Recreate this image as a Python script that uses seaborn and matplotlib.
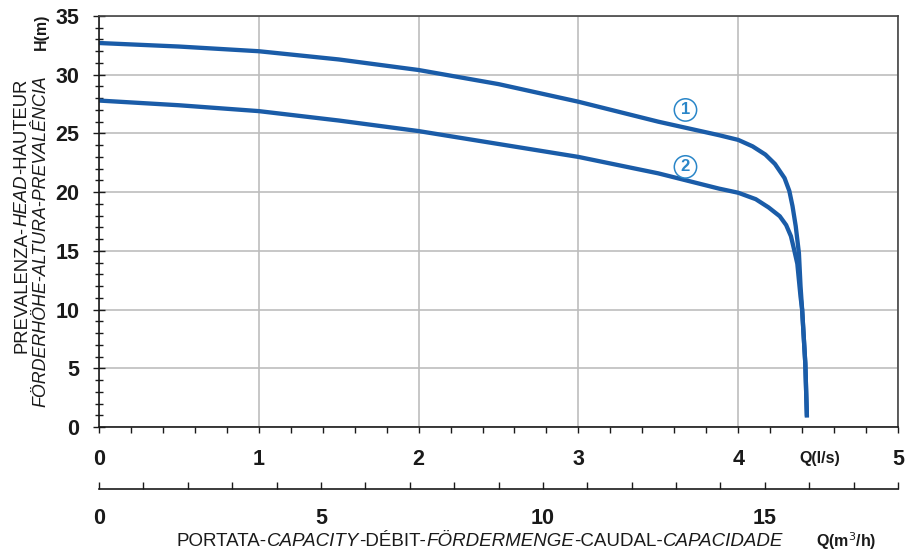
import matplotlib
matplotlib.use("Agg")
import matplotlib.pyplot as plt
import seaborn as sns
import pandas as pd
import numpy as np

# ---- data ----
q_curve1 = [0, 0.5, 1, 1.5, 2, 2.5, 3, 3.5, 3.88, 4.0, 4.09, 4.17, 4.23, 4.29, 4.32, 4.34,
            4.36, 4.38, 4.39, 4.40, 4.42, 4.43]
h_curve1 = [32.7, 32.4, 32.0, 31.3, 30.4, 29.2, 27.7, 26.0, 24.85, 24.45, 23.9, 23.2, 22.4,
            21.2, 20.1, 18.8, 17.1, 14.8, 12.0, 10.0, 5.4, 0.9]
q_curve2 = [0, 0.5, 1, 1.5, 2, 2.5, 3, 3.5, 3.88, 4.0, 4.11, 4.19, 4.26, 4.30, 4.33, 4.35,
            4.37, 4.39, 4.40, 4.42, 4.43]
h_curve2 = [27.8, 27.4, 26.9, 26.1, 25.2, 24.1, 23.0, 21.6, 20.3, 19.95, 19.4, 18.7, 17.95,
            17.2, 16.25, 15.1, 13.9, 11.1, 10.0, 5.4, 0.8]
curve_labels = ["1", "2"]
label_pos_q = [3.67, 3.67]
label_pos_h = [27.0, 22.15]
x_major_ticks = [0, 1, 2, 3, 4, 5]
y_major_ticks = [0, 5, 10, 15, 20, 25, 30, 35]
m3h_major_ticks = [0, 5, 10, 15]

sns.set_theme(style="white")
NARROW = ["Liberation Sans Narrow", "Liberation Sans", "DejaVu Sans"]
plt.rcParams["font.family"] = NARROW

W, H = 922, 554
fig = plt.figure(figsize=(W / 100, H / 100), dpi=100)
fig.patch.set_facecolor("white")

L, R, B, T = 99, 898, 427, 16
ax = fig.add_axes([L / W, 1 - B / H, (R - L) / W, (B - T) / H])

line_color = "#1a5ca8"
df = pd.concat([
    pd.DataFrame({"Q": q_curve1, "H": h_curve1, "curve": "1"}),
    pd.DataFrame({"Q": q_curve2, "H": h_curve2, "curve": "2"}),
])
sns.lineplot(data=df, x="Q", y="H", units="curve", estimator=None, sort=False,
             color=line_color, linewidth=3.1, ax=ax, legend=False)
for ln in ax.get_lines():
    ln.set_solid_joinstyle("round")
    ln.set_solid_capstyle("butt")

ax.set_xlim(0, 5)
ax.set_ylim(0, 35)
ax.set_xticks(x_major_ticks)
ax.set_xticks(np.arange(0, 5.01, 0.2), minor=True)
ax.set_yticks(y_major_ticks)
ax.set_yticks(np.arange(0, 35.01, 1), minor=True)
ax.set_xlabel("")
ax.set_ylabel("")
ax.grid(True, which="major", color="#bdbdbd", linewidth=1.2)
ax.set_axisbelow(True)
for s in ["left", "bottom"]:
    ax.spines[s].set_color("#1a1a1a")
    ax.spines[s].set_linewidth(1.2)
for s in ["top", "right"]:
    ax.spines[s].set_color("#444444")
    ax.spines[s].set_linewidth(1.2)

ax.tick_params(axis="x", which="both", direction="out", length=4, width=1, color="#1a1a1a",
               bottom=True, labelsize=15.5, pad=12)
ax.tick_params(axis="y", which="major", direction="inout", length=8, width=1, color="#1a1a1a",
               left=True, labelsize=15.5, pad=10)
ax.tick_params(axis="y", which="minor", direction="inout", length=6, width=1, color="#1a1a1a", left=True)
for lab in ax.get_xticklabels() + ax.get_yticklabels():
    lab.set_fontweight("bold")
    lab.set_color("#1a1a1a")

# circled curve numbers
for lab, qx, hy in zip(curve_labels, label_pos_q, label_pos_h):
    ax.text(qx, hy, lab, ha="center", va="center", fontsize=12, fontweight="bold",
            color="#2a86c8", family="Liberation Sans",
            bbox=dict(boxstyle="circle,pad=0.22", fc="white", ec="#2a86c8", lw=1.1))

# secondary m3/h axis
AX2_Y = 489
ax2 = fig.add_axes([L / W, 1 - AX2_Y / H, (R - L) / W, 0.0001])
ax2.set_facecolor("none")
for s in ["top", "left", "right"]:
    ax2.spines[s].set_visible(False)
ax2.spines["bottom"].set_color("#1a1a1a")
ax2.spines["bottom"].set_linewidth(1.2)
ax2.set_xlim(0, 18)
ax2.set_xticks(m3h_major_ticks)
ax2.set_xticks(np.arange(0, 18.01, 1), minor=True)
ax2.set_yticks([])
ax2.tick_params(axis="x", which="both", direction="in", length=5, width=1, color="#1a1a1a",
                bottom=True, labelsize=15.5, pad=14)
for lab in ax2.get_xticklabels():
    lab.set_fontweight("bold")
    lab.set_color("#1a1a1a")

def fx(px):
    return px / W

def fy(py):
    return 1 - py / H

# unit labels
fig.text(fx(820), fy(458), "Q(l/s)", ha="center", va="center", fontsize=11.5,
         fontweight="bold", color="#1a1a1a")
fig.text(fx(846), fy(541), "Q(m$^3$/h)", ha="center", va="center", fontsize=11.5,
         fontweight="bold", color="#1a1a1a")
fig.text(fx(41), fy(32), "H(m)", ha="center", va="center", fontsize=11.5,
         fontweight="bold", rotation=90, color="#1a1a1a")

renderer = fig.canvas.get_renderer()

def rich(cx, cy, parts, rotation=0, size=13.5):
    widths = []
    for txt, style in parts:
        t = fig.text(0, 0, txt, fontsize=size, style=style)
        widths.append(t.get_window_extent(renderer).width)
        t.remove()
    total = sum(widths)
    pos = -total / 2
    for (txt, style), w in zip(parts, widths):
        if rotation == 0:
            x, y = cx + pos, cy
        else:
            x, y = cx, cy - pos
        fig.text(fx(x), fy(y), txt, fontsize=size, style=style, rotation=rotation,
                 rotation_mode="anchor", ha="left", va="center", color="#1a1a1a")
        pos += w

rich(480, 541, [("PORTATA-", "normal"), ("CAPACITY", "italic"), ("-DÉBIT-", "normal"),
                ("FÖRDERMENGE", "italic"), ("-CAUDAL-", "normal"), ("CAPACIDADE", "italic")])
rich(22, 216, [("PREVALENZA-", "normal"), ("HEAD", "italic"), ("-HAUTEUR", "normal")],
     rotation=90, size=13.3)
rich(41, 241, [("FÖRDERHÖHE-ALTURA-PREVALÊNCIA", "italic")], rotation=90, size=12.9)

fig.savefig("out.png", dpi=100, facecolor="white")
